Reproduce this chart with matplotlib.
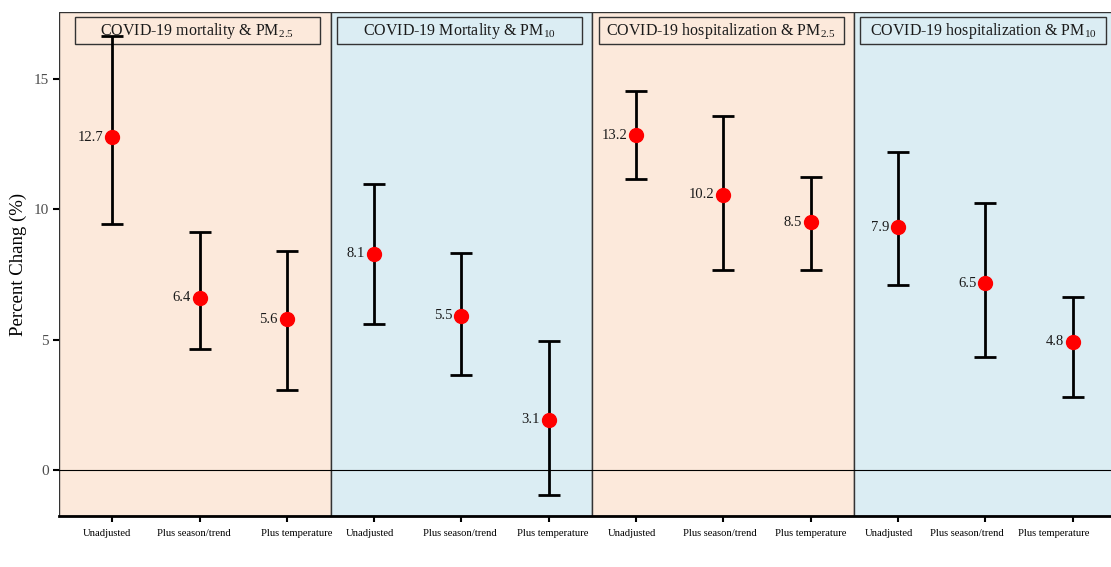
import matplotlib.pyplot as plt
import matplotlib.transforms as mtrans
from matplotlib.patches import Rectangle

plt.rcParams['font.family'] = ['Liberation Serif', 'DejaVu Serif']
plt.rcParams['mathtext.fontset'] = 'stix'

# data
panels = [r"COVID-19 mortality & PM$_{\mathregular{2.5}}$",
          r"COVID-19 Mortality & PM$_{\mathregular{10}}$",
          r"COVID-19 hospitalization & PM$_{\mathregular{2.5}}$",
          r"COVID-19 hospitalization & PM$_{\mathregular{10}}$"]
models = ["Unadjusted", "Plus season/trend", "Plus temperature"]
est = [12.77, 6.60, 5.79, 8.29, 5.91, 1.92, 12.85, 10.55, 9.51, 9.32, 7.17, 4.91]
lower = [9.44, 4.64, 3.07, 5.60, 3.64, -0.96, 11.16, 7.67, 7.67, 7.10, 4.33, 2.80]
upper = [16.65, 9.13, 8.40, 10.97, 8.32, 4.95, 14.54, 13.58, 11.24, 12.20, 10.24, 6.64]
labels = ["12.7", "6.4", "5.6", "8.1", "5.5", "3.1", "13.2", "10.2", "8.5", "7.9", "6.5", "4.8"]
bg = ["#FCE9DB", "#DBEDF3", "#FCE9DB", "#DBEDF3"]

# horizontal nudges (px) of the x tick labels, as they sit in the reference
label_shift = [-5, -6, 10, -4, -2, 4, -4, -3, 0, -9, -18, -19]

fig = plt.figure(figsize=(11.11, 5.67), dpi=100)
ax = fig.add_axes([0.0531, 0.0899, 0.9469, 0.8889])

xs = list(range(1, 13))
ax.set_xlim(0.39, 12.44)
ax.set_ylim(-1.77, 17.57)

for i in range(4):
    lo = 0.5 + 3 * i
    hi = lo + 3
    ax.axvspan(lo if i > 0 else 0.39, hi, facecolor=bg[i], edgecolor="#333333", lw=1.0, zorder=0)
    ax.add_patch(Rectangle((lo + 0.07, 16.34), 3 - 0.19, 1.04, facecolor=bg[i],
                           edgecolor="#333333", lw=1.0, zorder=1))
    ax.text(lo + 0.07 + (3 - 0.19) / 2, 16.86, panels[i], ha="center", va="center",
            fontsize=11.5, color="#1a1a1a", zorder=4)

ax.axhline(0, color="black", lw=0.8, zorder=1)

yerr = [[e - l for e, l in zip(est, lower)], [u - e for e, u in zip(est, upper)]]
ax.errorbar(xs, est, yerr=yerr, fmt="none", ecolor="black", elinewidth=2,
            capsize=8, capthick=2, zorder=2)
ax.plot(xs, est, "o", color="red", markersize=10, zorder=3)
for x, y, t in zip(xs, est, labels):
    ax.annotate(t, (x, y), xytext=(-6.5, 0), textcoords="offset points",
                ha="right", va="center", fontsize=10.5, color="#1a1a1a")

ax.set_xticks(xs)
ax.set_xticklabels(models * 4, fontsize=7.7)
ax.set_yticks([0, 5, 10, 15])
ax.tick_params(axis="y", labelsize=11, labelcolor="#4D4D4D", length=4, width=1.5)
ax.tick_params(axis="x", length=4, width=1.5, pad=5)
ax.set_ylabel("Percent Chang (%)", fontsize=13.5, va="center")
ax.yaxis.set_label_coords(-0.039, 0.5)

for s in ["top", "right", "left"]:
    ax.spines[s].set_visible(False)
ax.spines["bottom"].set_linewidth(2)

for lab, dx in zip(ax.get_xticklabels(), label_shift):
    lab.set_transform(lab.get_transform() + mtrans.ScaledTranslation(dx / 100, 0, fig.dpi_scale_trans))

fig.savefig("out.png", dpi=100)
